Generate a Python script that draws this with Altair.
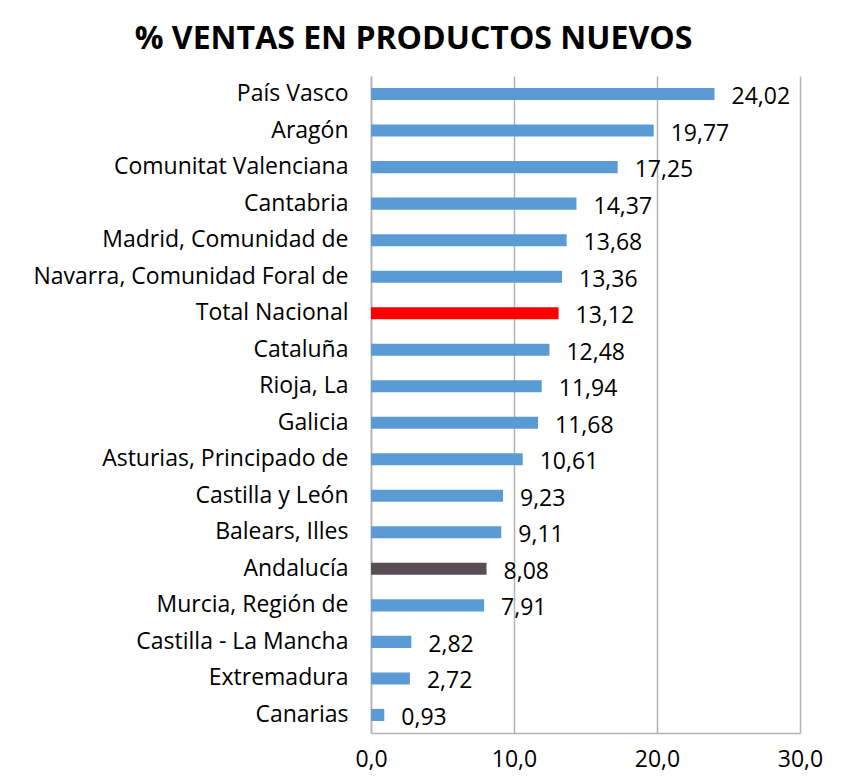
import altair as alt
import pandas as pd

regions = ["País Vasco", "Aragón", "Comunitat Valenciana", "Cantabria",
           "Madrid, Comunidad de", "Navarra, Comunidad Foral de", "Total Nacional",
           "Cataluña", "Rioja, La", "Galicia", "Asturias, Principado de",
           "Castilla y León", "Balears, Illes", "Andalucía", "Murcia, Región de",
           "Castilla - La Mancha", "Extremadura", "Canarias"]
values = [24.02, 19.77, 17.25, 14.37, 13.68, 13.36, 13.12, 12.48, 11.94, 11.68,
          10.61, 9.23, 9.11, 8.08, 7.91, 2.82, 2.72, 0.93]
colors = ["#5B9BD5"] * 6 + ["#FF0000"] + ["#5B9BD5"] * 6 + ["#584E54"] + ["#5B9BD5"] * 4
labels = [f"{v:.2f}".replace(".", ",") for v in values]

df = pd.DataFrame({"region": regions, "value": values, "color": colors, "label": labels})

FONT = "Open Sans"
FS = 23

y = alt.Y("region:N", sort=regions, title=None,
          scale=alt.Scale(paddingInner=0.67, paddingOuter=0.33),
          axis=alt.Axis(labelFontSize=FS, labelFont=FONT, labelColor="#000000",
                        labelPadding=23, ticks=False, domain=True, domainColor="#B3B3B3",
                        domainWidth=1.5, labelLimit=400))
x = alt.X("value:Q", title=None,
          scale=alt.Scale(domain=[0, 30], nice=False),
          axis=alt.Axis(values=[0, 10, 20, 30], labelExpr="replace(format(datum.value, '.1f'), '.', ',')",
                        labelFontSize=FS, labelFont=FONT, labelColor="#000000",
                        labelFlush=False, labelOverlap=False,
                        labelPadding=15, ticks=False, domain=True, domainColor="#B3B3B3",
                        domainWidth=1.5, grid=True, gridColor="#B3B3B3", gridWidth=1.5))

bars = alt.Chart(df).mark_bar().encode(
    x=x, y=y, color=alt.Color("color:N", scale=None)
)
text = alt.Chart(df).mark_text(align="left", baseline="middle", dx=17, dy=3,
                               fontSize=FS, font=FONT, color="#000000").encode(
    x="value:Q", y=alt.Y("region:N", sort=regions), text="label:N"
)

chart = (bars + text).properties(
    width=429, height=657,
    autosize=alt.AutoSizeParams(type="none"),
    padding={"left": 363, "top": 68, "right": 30, "bottom": 41},
    title=alt.TitleParams("% VENTAS EN PRODUCTOS NUEVOS", fontSize=32, font=FONT,
                          fontWeight="bold", color="#000000", anchor="middle",
                          dx=-172, offset=20),
).configure_view(strokeWidth=0)

chart.save("out.html", embed_options={"renderer": "svg", "actions": False})
